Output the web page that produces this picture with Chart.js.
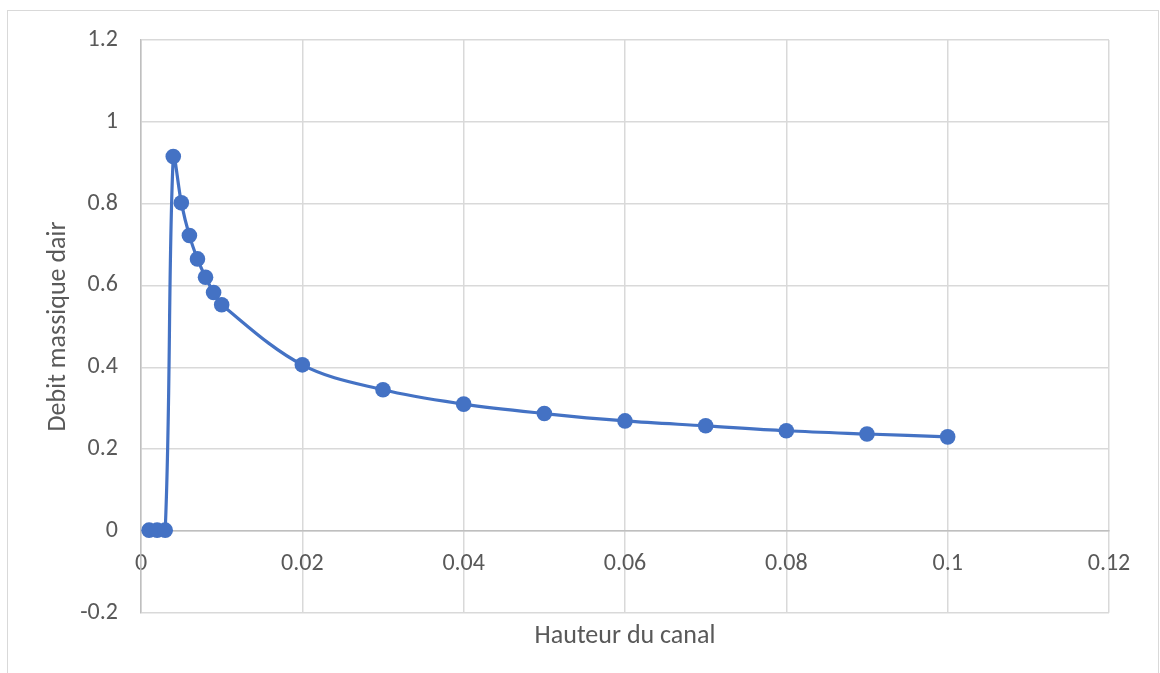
<!DOCTYPE html>
<html lang="fr">
<head>
    <meta charset="UTF-8">
    <title>Debit massique dair</title>
    <style>
        body { margin: 0; background: #fff; }
        .frame {
            position: absolute;
            left: 7px; top: 10px;
            width: 1150px; height: 700px;
            border: 1.5px solid #d9d9d9;
        }
        canvas { position: absolute; left: 0; top: 0; }
    </style>
</head>
<body>
    <div class="frame"></div>
    <canvas id="chart" width="1160" height="673"></canvas>

    <script src="https://cdn.jsdelivr.net/npm/chart.js@4"></script>
    <script>
        // Hauteur du canal (m)
        const hauteur = [0.001, 0.002, 0.003, 0.004, 0.005, 0.006, 0.007, 0.008, 0.009, 0.01,
                         0.02, 0.03, 0.04, 0.05, 0.06, 0.07, 0.08, 0.09, 0.1];
        // Debit massique d'air
        const debit = [0.002, 0.002, 0.002, 0.915, 0.802, 0.722, 0.665, 0.620, 0.583, 0.553,
                       0.406, 0.345, 0.310, 0.287, 0.269, 0.257, 0.245, 0.237, 0.230];

        const xTitle = 'Hauteur du canal';
        const yTitle = 'Debit massique dair';

        const blue = '#4472C4';
        const textGray = '#595959';
        const fontFam = 'Calibri, Carlito, Lato, sans-serif';

        const points = hauteur.map((x, i) => ({ x: x, y: debit[i] }));

        new Chart(document.getElementById('chart'), {
            type: 'scatter',
            data: {
                datasets: [{
                    data: points,
                    showLine: true,
                    borderColor: blue,
                    backgroundColor: blue,
                    borderWidth: 3.2,
                    tension: 0.35,
                    pointRadius: 7.8,
                    pointHoverRadius: 7.8,
                    pointBorderWidth: 0
                }]
            },
            options: {
                responsive: false,
                animation: false,
                layout: { padding: { top: 40, right: 51, bottom: 0, left: 0 } },
                plugins: {
                    legend: { display: false },
                    tooltip: { enabled: false },
                    title: {
                        display: true,
                        position: 'bottom',
                        fullSize: false,
                        text: xTitle,
                        color: textGray,
                        font: { family: fontFam, size: 26, weight: 'normal' },
                        padding: { top: 8, bottom: 21 }
                    }
                },
                scales: {
                    x: {
                        type: 'linear',
                        position: { y: 0 },
                        min: 0,
                        max: 0.12,
                        ticks: {
                            stepSize: 0.02,
                            maxRotation: 0,
                            padding: 19,
                            color: textGray,
                            font: { family: fontFam, size: 24 },
                            callback: v => String(+v.toFixed(2))
                        },
                        grid: { color: '#d9d9d9', lineWidth: 1.5, drawTicks: false },
                        border: { color: '#bfbfbf', width: 1.5 }
                    },
                    y: {
                        type: 'linear',
                        position: 'left',
                        min: -0.2,
                        max: 1.2,
                        afterFit: scale => { scale.width = 141; },
                        ticks: {
                            stepSize: 0.2,
                            padding: 23,
                            color: textGray,
                            font: { family: fontFam, size: 24 },
                            callback: v => String(+v.toFixed(2))
                        },
                        grid: { color: '#d9d9d9', lineWidth: 1.5, drawTicks: false },
                        border: { color: '#bfbfbf', width: 1.5 },
                        title: {
                            display: true,
                            text: yTitle,
                            color: textGray,
                            font: { family: fontFam, size: 26 },
                            padding: { top: 43, bottom: 0 }
                        }
                    }
                }
            }
        });
    </script>
</body>
</html>
